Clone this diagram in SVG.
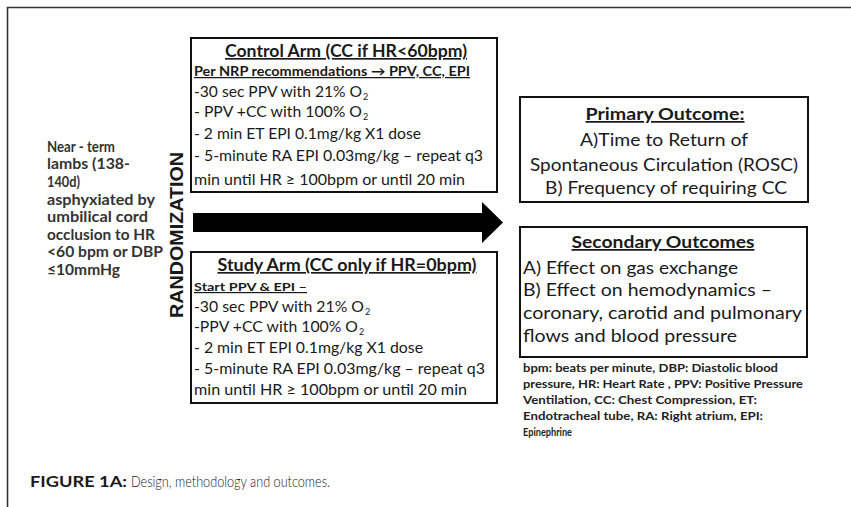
<svg xmlns="http://www.w3.org/2000/svg" width="851" height="507" viewBox="0 0 851 507">
<style>
text{font-family:Lato,"Open Sans","Liberation Sans",sans-serif;fill:#1a1a1a}
.box{fill:#fff;stroke:#111;stroke-width:2}
.b{font-weight:bold}
.u{text-decoration:underline}
.t{font-size:15px}
.h{font-size:16.5px;font-weight:bold;text-decoration:underline}
.o{font-size:17.5px}
.l{font-size:15px;font-weight:bold;fill:#333}
.n{font-size:11px;font-weight:bold;fill:#222}
.s{font-size:9px}
</style>
<rect width="851" height="507" fill="#fff"/>
<path d="M7.5 507 V7.5 H851" fill="none" stroke="#333" stroke-width="1.6"/>

<g id="population">
<text class="l" x="47" y="152" textLength="68" lengthAdjust="spacingAndGlyphs">Near - term</text>
<text class="l" x="47" y="169" textLength="83" lengthAdjust="spacingAndGlyphs">lambs (138-</text>
<text class="l" x="47" y="187" textLength="33" lengthAdjust="spacingAndGlyphs">140d)</text>
<text class="l" x="47" y="205" textLength="108" lengthAdjust="spacingAndGlyphs">asphyxiated by</text>
<text class="l" x="47" y="222" textLength="101" lengthAdjust="spacingAndGlyphs">umbilical cord</text>
<text class="l" x="47" y="240" textLength="108" lengthAdjust="spacingAndGlyphs">occlusion to HR</text>
<text class="l" x="47" y="257" textLength="116" lengthAdjust="spacingAndGlyphs">&lt;60 bpm or DBP</text>
<text class="l" x="47" y="275" textLength="73" lengthAdjust="spacingAndGlyphs">≤10mmHg</text>
</g>

<g id="randomization">
<text transform="translate(183,235) rotate(-90)" text-anchor="middle" font-size="19" font-weight="bold" style="font-family:'Liberation Sans',Arial,sans-serif" fill="#222" textLength="166" lengthAdjust="spacingAndGlyphs">RANDOMIZATION</text>
</g>

<g id="control-arm">
<rect class="box" x="191" y="38" width="306" height="154"/>
<text class="h" x="346" y="57" text-anchor="middle" textLength="242" lengthAdjust="spacingAndGlyphs">Control Arm (CC if HR&lt;60bpm)</text>
<text class="b u" font-size="12.5" x="194" y="76" textLength="276" lengthAdjust="spacingAndGlyphs">Per NRP recommendations → PPV, CC, EPI</text>
<text class="t" x="194" y="97" textLength="168" lengthAdjust="spacingAndGlyphs">-30 sec PPV with 21% O</text><text class="s" x="363" y="100">2</text>
<text class="t" x="194" y="117" textLength="168" lengthAdjust="spacingAndGlyphs">- PPV +CC with 100% O</text><text class="s" x="363" y="120">2</text>
<text class="t" x="194" y="139" textLength="227" lengthAdjust="spacingAndGlyphs">- 2 min ET EPI 0.1mg/kg X1 dose</text>
<text class="t" x="194" y="161" textLength="289" lengthAdjust="spacingAndGlyphs">- 5-minute RA EPI 0.03mg/kg – repeat q3</text>
<text class="t" x="194" y="185" textLength="271" lengthAdjust="spacingAndGlyphs">min until HR  ≥ 100bpm or until 20 min</text>
</g>

<g id="study-arm">
<rect class="box" x="191" y="252" width="306" height="151"/>
<text class="h" x="347" y="271" text-anchor="middle" textLength="259" lengthAdjust="spacingAndGlyphs">Study Arm (CC only if HR=0bpm)</text>
<text class="b u" font-size="12" x="194" y="291" textLength="113" lengthAdjust="spacingAndGlyphs">Start PPV &amp; EPI –</text>
<text class="t" x="194" y="312" textLength="170" lengthAdjust="spacingAndGlyphs">-30 sec PPV with 21% O</text><text class="s" x="365" y="315">2</text>
<text class="t" x="194" y="332" textLength="164" lengthAdjust="spacingAndGlyphs">-PPV +CC with 100% O</text><text class="s" x="359" y="335">2</text>
<text class="t" x="194" y="353" textLength="229" lengthAdjust="spacingAndGlyphs">- 2 min ET EPI 0.1mg/kg X1 dose</text>
<text class="t" x="194" y="374" textLength="291" lengthAdjust="spacingAndGlyphs">- 5-minute RA EPI 0.03mg/kg – repeat q3</text>
<text class="t" x="194" y="395" textLength="273" lengthAdjust="spacingAndGlyphs">min until HR ≥ 100bpm or until 20 min</text>
</g>

<g id="connectors">
<path d="M193 213 H482 V202 L503 222.5 L482 243 V232 H193 Z" fill="#000"/>
</g>

<g id="primary-outcome">
<rect class="box" x="520" y="97" width="288" height="105"/>
<text class="o b u" x="665" y="120" text-anchor="middle" textLength="159" lengthAdjust="spacingAndGlyphs">Primary Outcome:</text>
<text class="o" x="664" y="146" text-anchor="middle" textLength="168" lengthAdjust="spacingAndGlyphs">A)Time to Return of</text>
<text class="o" x="664" y="171" text-anchor="middle" textLength="268" lengthAdjust="spacingAndGlyphs">Spontaneous Circulation (ROSC)</text>
<text class="o" x="666" y="194" text-anchor="middle" textLength="242" lengthAdjust="spacingAndGlyphs">B) Frequency of requiring CC</text>
</g>

<g id="secondary-outcomes">
<rect class="box" x="520" y="227" width="287" height="130"/>
<text class="o b u" x="663" y="248" text-anchor="middle" textLength="183" lengthAdjust="spacingAndGlyphs">Secondary Outcomes</text>
<text class="o" x="523" y="274" textLength="215" lengthAdjust="spacingAndGlyphs">A) Effect on gas exchange</text>
<text class="o" x="523" y="296" textLength="249" lengthAdjust="spacingAndGlyphs">B) Effect on hemodynamics –</text>
<text class="o" x="523" y="319" textLength="279" lengthAdjust="spacingAndGlyphs">coronary, carotid and pulmonary</text>
<text class="o" x="523" y="342" textLength="214" lengthAdjust="spacingAndGlyphs">flows and blood pressure</text>
</g>

<g id="abbreviations">
<text class="n" x="523" y="372" textLength="255" lengthAdjust="spacingAndGlyphs">bpm: beats per minute, DBP: Diastolic blood</text>
<text class="n" x="523" y="388" textLength="280" lengthAdjust="spacingAndGlyphs">pressure, HR: Heart Rate , PPV: Positive Pressure</text>
<text class="n" x="523" y="404" textLength="234" lengthAdjust="spacingAndGlyphs">Ventilation, CC: Chest Compression, ET:</text>
<text class="n" x="523" y="420" textLength="240" lengthAdjust="spacingAndGlyphs">Endotracheal tube, RA: Right atrium, EPI:</text>
<text class="n" x="523" y="436" textLength="49" lengthAdjust="spacingAndGlyphs">Epinephrine</text>
</g>

<g id="caption">
<text x="30" y="487" font-size="16" font-weight="bold" fill="#1e2a3c" textLength="97" lengthAdjust="spacingAndGlyphs">FIGURE 1A:</text>
<text x="131" y="487" font-size="15" font-weight="300" fill="#444" textLength="199" lengthAdjust="spacingAndGlyphs">Design, methodology and outcomes.</text>
</g>
</svg>
